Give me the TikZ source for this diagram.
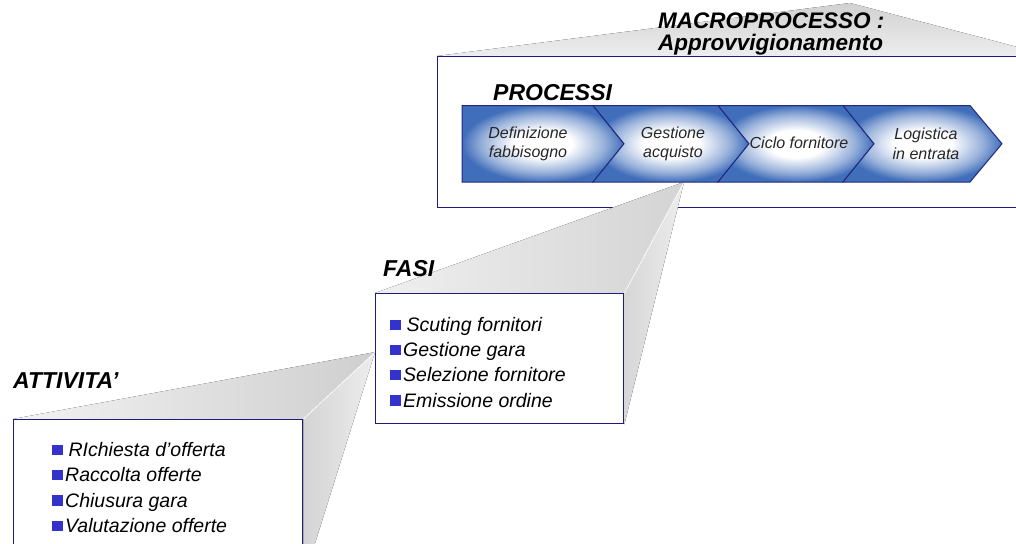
\documentclass[tikz,border=0pt]{standalone}
\usepackage{fontspec}
\setmainfont{Liberation Sans}
\usetikzlibrary{calc}

\definecolor{navy}{RGB}{28,28,122}
\definecolor{chevblue}{RGB}{64,110,186}
\definecolor{chevline}{RGB}{32,42,128}
\definecolor{bulletblue}{RGB}{51,51,204}

% light centre fading to blue at the rim of each process step
\pgfdeclareradialshading{chevglow}{\pgfpoint{0bp}{0bp}}{%
  color(0bp)=(white); color(9bp)=(white);
  color(19bp)=(chevblue!55!white); color(25bp)=(chevblue); color(50bp)=(chevblue)}

\pgfdeclarelayer{back}
\pgfdeclarelayer{mid}
\pgfsetlayers{back,mid,main}

\newcommand{\sqbullet}{\textcolor{bulletblue}{\rule[1.5pt]{11pt}{10.5pt}}}

\tikzset{
  frame/.style={draw=navy, line width=1.4pt, fill=white, inner sep=0pt, anchor=north west},
  chev/.style={shade, shading=chevglow, draw=chevline, line width=1pt, line join=miter},
  title/.style={font=\fontsize{23}{26}\selectfont\bfseries\itshape, inner sep=0pt, anchor=base west},
  chevtext/.style={font=\fontsize{16}{19.5}\selectfont\itshape, align=center, inner sep=0pt, text=black!85},
  item/.style={font=\fontsize{19.5}{24}\selectfont\itshape, inner sep=0pt, anchor=base west},
  facelink/.style={draw=white, line width=0.8pt}
}

\begin{document}
\begin{tikzpicture}[x=1pt,y=-1pt]
\useasboundingbox (0,0) rectangle (1016,543);
\clip (0,0) rectangle (1016,543);

% ---- frames ----
\begin{pgfonlayer}{mid}
  \node[frame, minimum width=613pt, minimum height=151pt] (macro) at (437,56) {};
\end{pgfonlayer}
\node[frame, minimum width=248pt, minimum height=130pt] (fasi) at (375,293) {};
\node[frame, minimum width=289pt, minimum height=160pt] (att) at (13,419) {};

% ---- zoom wedges ----
\coordinate (macroapex) at (850,3);
\coordinate (apex2) at (684,182);
\coordinate (apex3) at ($(fasi.north west)!0.45!(fasi.south west)$);

\begin{pgfonlayer}{back}
  \fill[top color=gray!36, bottom color=gray!14]
    (macro.north west) -- (macroapex) -- (macro.north east) -- cycle;
\end{pgfonlayer}

\begin{pgfonlayer}{mid}
  \fill[left color=gray!12, right color=gray!34]
    (apex2) -- (fasi.north west) -- (fasi.north east) -- cycle;
  \fill[left color=gray!32, right color=gray!14]
    (apex2) -- (fasi.north east) -- (fasi.south east) -- cycle;
  \draw[facelink] (apex2) -- (fasi.north east);

  \fill[left color=gray!10, right color=gray!38]
    (apex3) -- (att.north west) -- (att.north east) -- cycle;
  \fill[left color=gray!34, right color=gray!14]
    (apex3) -- (att.north east) -- (att.south east) -- cycle;
  \draw[facelink] (apex3) -- (att.north east);
\end{pgfonlayer}

% ---- process chevrons ----
\path[chev] (462,105.5) -- (593,105.5) -- (624,143.75) -- (593,182) -- (462,182) -- cycle;
\path[chev] (593,105.5) -- (718,105.5) -- (749,143.75) -- (718,182) -- (593,182) -- (624,143.75) -- cycle;
\path[chev] (718,105.5) -- (843,105.5) -- (874,143.75) -- (843,182) -- (718,182) -- (749,143.75) -- cycle;
\path[chev] (843,105.5) -- (970,105.5) -- (1002,143.75) -- (970,182) -- (843,182) -- (874,143.75) -- cycle;

\node[chevtext] (c1) at (528,144) {Definizione\\fabbisogno};
\node[chevtext] (c2) at (673,144) {Gestione\\acquisto};
\node[chevtext] (c3) at (799,143) {Ciclo fornitore};
\node[chevtext] (c4) at (926,144) {Logistica\\in entrata};

% ---- headings ----
\node[title, font=\fontsize{22.5}{26}\selectfont\bfseries\itshape] (tmacro) at (658,28.5) {MACROPROCESSO :};
\node[title, font=\fontsize{22.5}{26}\selectfont\bfseries\itshape] (tappr)  at (658,50.5) {Approvvigionamento};
\node[title] (tproc)  at (493,100) {PROCESSI};
\node[title] (tfasi)  at (383,276) {FASI};
\node[title] (tatt)   at (13,388) {ATTIVITA'};

% ---- phase list ----
\node[item] (f1) at (390,331.5) {\sqbullet\ Scuting fornitori};
\node[item] (f2) at (390,356.5) {\sqbullet\hspace{2pt}Gestione gara};
\node[item] (f3) at (390,381.5) {\sqbullet\hspace{2pt}Selezione fornitore};
\node[item] (f4) at (390,407)   {\sqbullet\hspace{2pt}Emissione ordine};

% ---- activity list ----
\node[item] (a1) at (52,456.5) {\sqbullet\ RIchiesta d'offerta};
\node[item] (a2) at (52,481.5) {\sqbullet\hspace{2pt}Raccolta offerte};
\node[item] (a3) at (52,507)   {\sqbullet\hspace{2pt}Chiusura gara};
\node[item] (a4) at (52,532.5) {\sqbullet\hspace{2pt}Valutazione offerte};
\end{tikzpicture}
\end{document}
